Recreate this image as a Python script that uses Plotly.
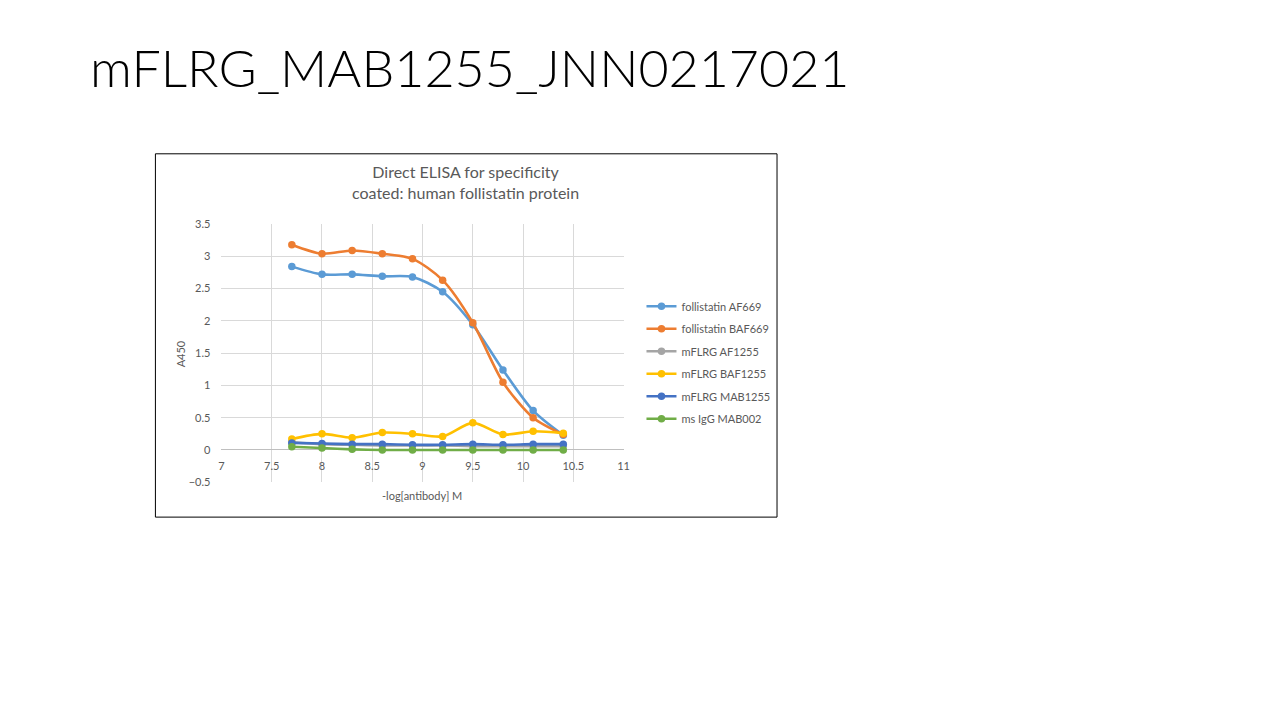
import plotly.graph_objects as go

# -log[antibody] M
x_vals = [7.7, 8.0, 8.3, 8.6, 8.9, 9.2, 9.5, 9.8, 10.1, 10.4]

fst_af669 = [2.84, 2.72, 2.72, 2.69, 2.68, 2.45, 1.94, 1.24, 0.61, 0.23]
fst_baf669 = [3.18, 3.04, 3.09, 3.04, 2.96, 2.63, 1.97, 1.05, 0.50, 0.24]
mflrg_af1255 = [0.12, 0.09, 0.08, 0.07, 0.07, 0.07, 0.06, 0.06, 0.06, 0.06]
mflrg_baf1255 = [0.17, 0.25, 0.19, 0.27, 0.25, 0.21, 0.42, 0.24, 0.29, 0.26]
mflrg_mab1255 = [0.11, 0.10, 0.09, 0.09, 0.08, 0.08, 0.09, 0.08, 0.09, 0.09]
ms_igg = [0.05, 0.03, 0.01, 0.0, 0.0, 0.0, 0.0, 0.0, 0.0, 0.0]

series_names = ["follistatin AF669", "follistatin BAF669", "mFLRG AF1255",
                "mFLRG BAF1255", "mFLRG MAB1255", "ms IgG MAB002"]
series_vals = [fst_af669, fst_baf669, mflrg_af1255, mflrg_baf1255, mflrg_mab1255, ms_igg]
colors = ["#5b9bd5", "#ed7d31", "#a5a5a5", "#ffc000", "#4472c4", "#70ad47"]

W, H = 1280, 720
def px_x(p): return p / W
def px_y(p): return 1 - p / H

fig = go.Figure()
for i, (name, vals, c) in enumerate(zip(series_names, series_vals, colors)):
    fig.add_trace(go.Scatter(x=x_vals, y=vals, name=name, mode="lines+markers",
                             legendgroup="g%d" % i,
                             line=dict(color=c, width=2.6, shape="spline", smoothing=0.8),
                             marker=dict(color=c, size=7.5)))

y0, y1 = px_y(484), px_y(221)
zero_pos = y0 + (0 - (-0.5)) / 4.0 * (y1 - y0)

fig.update_layout(
    width=W, height=H,
    margin=dict(l=0, r=0, t=0, b=0),
    paper_bgcolor="white", plot_bgcolor="white",
    font=dict(family="Lato, Open Sans, sans-serif", color="#595959", size=11),
    xaxis=dict(domain=[px_x(220), px_x(625)], range=[7, 11], dtick=0.5, tick0=7,
               showgrid=True, gridcolor="#d9d9d9", gridwidth=1, zeroline=False,
               showline=False, ticks="", anchor="free", position=zero_pos,
               ticklabelstandoff=8,
               tickfont=dict(size=11, color="#595959")),
    yaxis=dict(domain=[y0, y1], range=[-0.5, 3.5], dtick=0.5, tick0=-0.5,
               showgrid=True, gridcolor="#d9d9d9", gridwidth=1,
               zeroline=True, zerolinecolor="#bfbfbf", zerolinewidth=1,
               showline=False, ticks="", ticklabelstandoff=10,
               tickfont=dict(size=11, color="#595959")),
    legend=dict(x=px_x(643), y=px_y(290), xanchor="left", yanchor="top",
                font=dict(size=11, color="#595959"), tracegroupgap=3.5,
                itemwidth=30, bgcolor="rgba(0,0,0,0)"),
    showlegend=True,
)

# chart frame
fig.add_shape(type="rect", xref="paper", yref="paper",
              x0=px_x(153.5), x1=px_x(779.5), y0=px_y(519.5), y1=px_y(149.5),
              line=dict(color="black", width=1))

# slide title
fig.add_annotation(text="mFLRG_MAB1255_JNN0217021", xref="paper", yref="paper",
                   x=px_x(86), y=px_y(61), xanchor="left", yanchor="middle",
                   showarrow=False,
                   font=dict(size=52, color="black", family="Lato, sans-serif", weight=300))

# chart title
fig.add_annotation(text="Direct ELISA for specificity<br>coated: human follistatin protein",
                   xref="paper", yref="paper", x=px_x(466), y=px_y(178),
                   xanchor="center", yanchor="middle", showarrow=False,
                   font=dict(size=16, color="#595959"))

# axis titles
fig.add_annotation(text="-log[antibody] M", xref="paper", yref="paper",
                   x=px_x(422), y=px_y(497), xanchor="center", yanchor="middle",
                   showarrow=False, font=dict(size=11, color="#595959"))
fig.add_annotation(text="A450", xref="paper", yref="paper",
                   x=px_x(179), y=px_y(353), xanchor="center", yanchor="middle",
                   textangle=-90, showarrow=False, font=dict(size=11, color="#595959"))

fig.write_html("out.html", config={"displayModeBar": False},
               post_script="document.body.style.margin='0';"
                           "document.body.style.overflow='hidden';"
                           "document.documentElement.style.overflow='hidden';")
